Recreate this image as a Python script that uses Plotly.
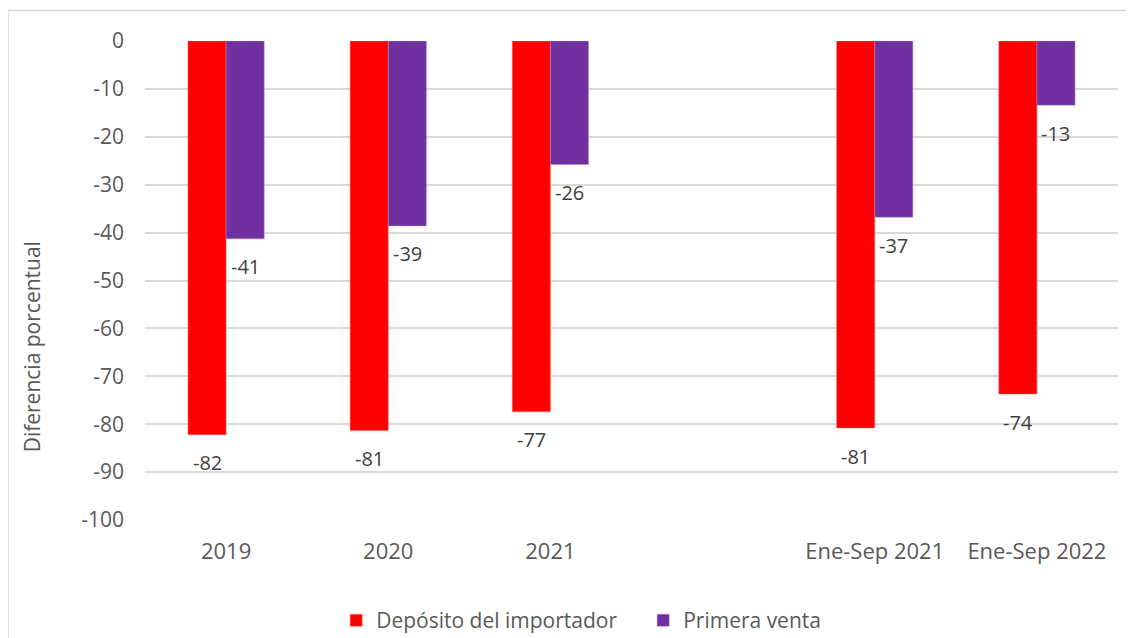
import plotly.graph_objects as go

# categorias (la cuarta es un hueco vacío entre 2021 y Ene-Sep 2021)
categorias = ["2019", "2020", "2021", " ", "Ene-Sep 2021", "Ene-Sep 2022"]
deposito = [-82.2, -81.3, -77.4, None, -80.8, -73.7]
primera_venta = [-41.3, -38.6, -25.8, None, -36.8, -13.4]

y_ticks = list(range(-100, 1, 10))
y_ticktext = [str(v) for v in y_ticks]  # guion normal como en el original

fuente = "Open Sans, Noto Sans, sans-serif"
gris = "#595959"

fig = go.Figure()
fig.add_trace(go.Bar(
    x=categorias, y=deposito, name="Depósito del importador",
    marker=dict(color="#FF0000", line=dict(color="#FF6666", width=0.5)),
))
fig.add_trace(go.Bar(
    x=categorias, y=primera_venta, name="Primera venta",
    marker=dict(color="#7030A0", line=dict(color="#A98BC9", width=0.5)),
))

# etiquetas de datos debajo del extremo de cada barra
# (x por índice de categoría: en eje categórico "2019" se leería como número)
anotaciones = []
for serie, desplaz in ((deposito, -19), (primera_venta, 19)):
    for i, val in enumerate(serie):
        if val is None:
            continue
        anotaciones.append(dict(
            x=i, y=val, xref="x", yref="y", text=f"{val:.0f}",
            showarrow=False, xshift=desplaz, yshift=-28,
            font=dict(size=20, color="#404040", family=fuente),
        ))

# título del eje Y (en el original no está centrado en el área de trazado)
anotaciones.append(dict(
    x=(24 - 137) / 973, y=(512 - 339) / 480, xref="paper", yref="paper",
    text="Diferencia porcentual", textangle=-90, showarrow=False,
    xanchor="center", yanchor="middle",
    font=dict(size=21, color=gris, family=fuente),
))

fig.update_layout(
    width=1126, height=645,
    margin=dict(l=137, r=16, t=33, b=133),
    paper_bgcolor="white", plot_bgcolor="white",
    barmode="group", bargap=0.53, bargroupgap=0,
    font=dict(family=fuente, color=gris, size=20),
    showlegend=True,
    legend=dict(orientation="h", x=0.512, xanchor="center", y=-0.21, yanchor="middle",
                font=dict(size=21, color=gris), itemwidth=30, entrywidth=262,
                entrywidthmode="pixels"),
    xaxis=dict(type="category", categoryorder="array", categoryarray=categorias,
               range=[-0.5, len(categorias) - 0.5],
               showgrid=False, showline=False, ticks="", ticklabelstandoff=16,
               tickfont=dict(size=22, color=gris)),
    yaxis=dict(range=[-100, 0], tickvals=y_ticks, ticktext=y_ticktext, showgrid=True,
               gridcolor="#D9D9D9", gridwidth=1.5, zeroline=False,
               ticks="", ticklabelstandoff=20,
               tickfont=dict(size=21, color=gris)),
    annotations=anotaciones,
    shapes=[
        dict(type="line", xref="paper", yref="paper",
             x0=(0 - 137) / 973, x1=(1126 - 137) / 973,
             y0=(512 - 1.5) / 480, y1=(512 - 1.5) / 480,
             line=dict(color="#D9D9D9", width=1.5)),
        dict(type="line", xref="paper", yref="paper",
             x0=(0 - 137) / 973, x1=(0 - 137) / 973,
             y0=(512 - 1.5) / 480, y1=(512 - 650) / 480,
             line=dict(color="#D9D9D9", width=1.5)),
    ],
)

fig.write_html("out.html")
